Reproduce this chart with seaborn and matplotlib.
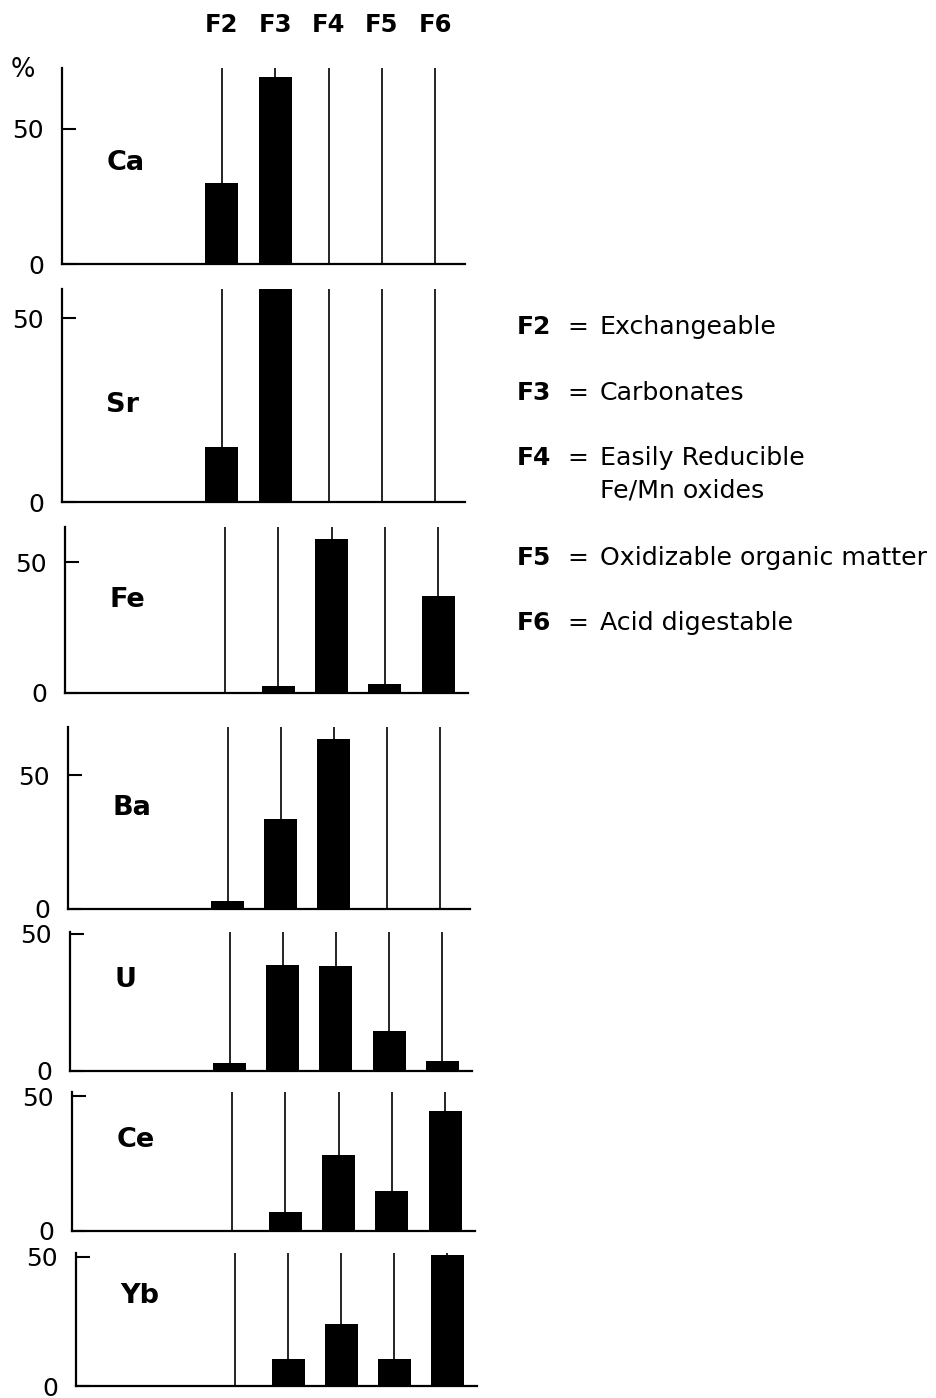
import matplotlib
matplotlib.use("Agg")
import matplotlib.pyplot as plt
import seaborn as sns

# ---- data ----
fractions = ["F2", "F3", "F4", "F5", "F6"]
elements = ["Ca", "Sr", "Fe", "Ba", "U", "Ce", "Yb"]
ca = [30, 69, 0, 0, 0]
sr = [15, 58, 0, 0, 0]
fe = [0, 2.7, 59, 3.4, 37]
ba = [3, 33.5, 63.5, 0, 0]
u = [2.9, 38.5, 38.3, 14.6, 3.5]
ce = [0, 7, 28, 15, 44.5]
yb = [0, 10.3, 24, 10.3, 50.8]
ytick_values = [0, 50]
ytick_labels = ["0", "50"]
legend_desc = ["Exchangeable", "Carbonates", "Easily Reducible\nFe/Mn oxides",
               "Oxidizable organic matter", "Acid digestable"]
series = [ca, sr, fe, ba, u, ce, yb]

sns.set_theme(style="white")
plt.rcParams['font.family'] = ['DejaVu Sans']
for k in ("text.color", "axes.labelcolor", "xtick.color", "ytick.color"):
    plt.rcParams[k] = "black"

W, H = 937, 1398
fig = plt.figure(figsize=(W / 100, H / 100), dpi=100)

# layout (pixels): left, right, baseline, top, y-axis maximum
boxes = [(62, 465, 264, 68, 72.5),
         (62, 465, 502, 289, 58),
         (65, 468, 693, 527, 63.4),
         (68, 470, 909, 727, 68),
         (70, 472, 1071, 932, 50.7),
         (72, 475, 1231, 1092, 51.5),
         (76, 477, 1386, 1253, 51.5)]
label_yf = [0.515, 0.455, 0.56, 0.555, 0.655, 0.655, 0.68]

for i, (el, vals) in enumerate(zip(elements, series)):
    l, r, b, t, ymax = boxes[i]
    ax = fig.add_axes([l / W, 1 - b / H, (r - l) / W, (b - t) / H])
    ax.vlines(range(len(fractions)), 0, ymax, colors="black", lw=1.2, zorder=0.5)
    sns.barplot(x=fractions, y=vals, color="black", width=0.62, saturation=1,
                linewidth=0, ax=ax, zorder=2)
    ax.set_xlim(-3.0, 4.56)
    ax.set_ylim(0, ymax)
    ax.set_xlabel("")
    ax.set_ylabel("")
    ax.set_yticks(ytick_values)
    ax.set_yticklabels(ytick_labels)
    ax.tick_params(axis="y", direction="in", length=10, width=1.5, pad=13,
                   labelsize=18, left=True, colors="black")
    sns.despine(ax=ax)
    for s in ("left", "bottom"):
        ax.spines[s].set_linewidth(1.6)
        ax.spines[s].set_color("black")
    if i == 0:
        ax.set_xticks(range(len(fractions)))
        ax.set_xticklabels(fractions, fontweight="bold", fontsize=17.5)
        ax.tick_params(axis="x", bottom=False, labelbottom=False, top=True,
                       labeltop=True, length=0, pad=22)
    else:
        ax.set_xticks([])
    ax.text(0.11, label_yf[i], el, transform=ax.transAxes, fontsize=19.5,
            fontweight="bold", ha="left", va="center")

fig.text(23 / W, 1 - 70 / H, "%", ha="center", va="center", fontsize=18.5)

legend_y = [327, 393, 458, 558, 623]
for code, desc, y in zip(fractions, legend_desc, legend_y):
    fig.text(517 / W, 1 - y / H, code, fontweight="bold", fontsize=18,
             ha="left", va="center")
    fig.text(578 / W, 1 - y / H, "=", fontsize=18, ha="center", va="center")
    for j, line in enumerate(desc.split("\n")):
        fig.text(600 / W, 1 - (y + 32 * j) / H, line, fontsize=18.2,
                 ha="left", va="center")

fig.savefig("out.png", dpi=100)
